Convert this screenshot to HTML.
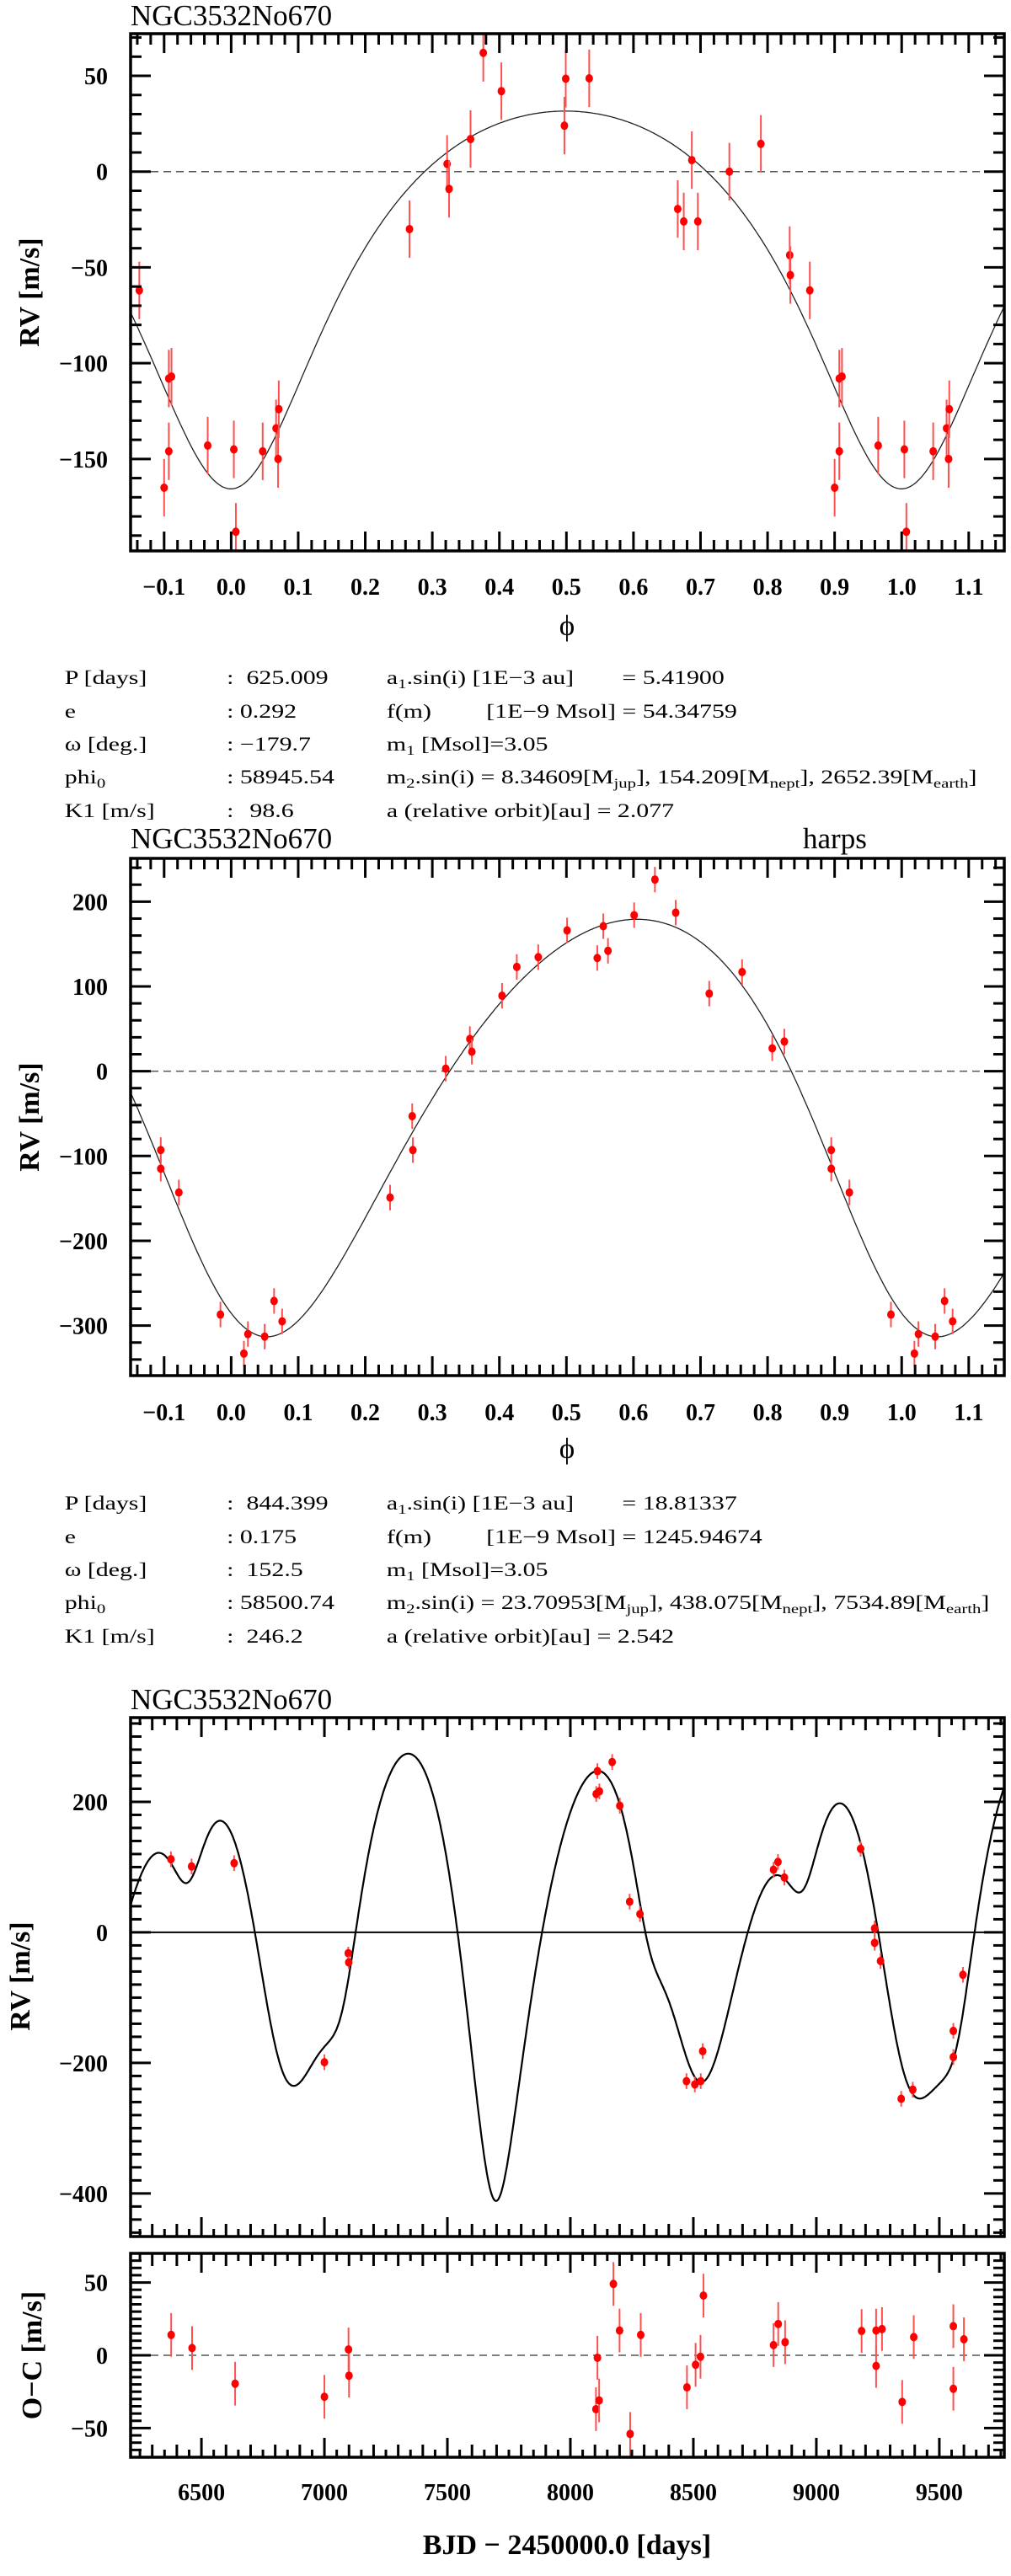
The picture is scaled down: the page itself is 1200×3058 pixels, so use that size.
<!DOCTYPE html>
<html><head><meta charset="utf-8"><title>NGC3532No670 RV fits</title>
<style>
html,body{margin:0;padding:0;background:#fff;}
svg{display:block;}
.tl{font-family:"Liberation Serif",serif;font-weight:bold;font-size:28px;fill:#000;}
.ttl{font-family:"Liberation Serif",serif;font-size:35px;fill:#000;}
.info{font-family:"Liberation Serif",serif;font-size:23px;fill:#000;}
.axt{font-family:"Liberation Serif",serif;font-weight:bold;font-size:34px;fill:#000;}
</style></head>
<body>
<svg id="fig" xmlns="http://www.w3.org/2000/svg" width="1200" height="3058" viewBox="0 0 1200 3058">
<defs>
<clipPath id="c1"><rect x="155" y="40" width="1037" height="614"/></clipPath>
<clipPath id="c2"><rect x="155" y="1019" width="1037" height="614"/></clipPath>
<clipPath id="c3"><rect x="155" y="2039" width="1037" height="616"/></clipPath>
<clipPath id="c4"><rect x="155" y="2675" width="1037" height="242"/></clipPath>
</defs>
<text class="ttl" x="155" y="30">NGC3532No670</text>
<text class="ttl" x="155" y="1007">NGC3532No670</text>
<text class="ttl" x="953" y="1007">harps</text>
<text class="ttl" x="155" y="2029">NGC3532No670</text>

<text class="axt" transform="translate(46,347) rotate(-90)" text-anchor="middle">RV [m/s]</text>
<text class="axt" transform="translate(46,1326) rotate(-90)" text-anchor="middle">RV [m/s]</text>
<text class="axt" transform="translate(35,2346) rotate(-90)" text-anchor="middle">RV [m/s]</text>
<text class="axt" transform="translate(49,2796) rotate(-90)" text-anchor="middle">O−C [m/s]</text>
<text class="ttl" x="673" y="754" text-anchor="middle">ϕ</text>
<text class="ttl" x="673" y="1731" text-anchor="middle">ϕ</text>
<text class="axt" x="673" y="3032" text-anchor="middle">BJD − 2450000.0 [days]</text>

<g transform="scale(1.3,1)" class="info" xml:space="preserve">
<text x="59" y="812">P  [days]</text><text x="207" y="812">:</text><text x="225" y="812">625.009</text>
<text x="353" y="812">a<tspan font-size="16" dy="5">1</tspan><tspan dy="-5">.sin(i)  [1E−3 au]</tspan></text><text x="568" y="812">= 5.41900</text>
<text x="59" y="852">e</text><text x="207" y="852">: 0.292</text>
<text x="353" y="852">f(m)</text><text x="444" y="852">[1E−9 Msol] = 54.34759</text>
<text x="59" y="891">ω [deg.]</text><text x="207" y="891">: −179.7</text>
<text x="353" y="891">m<tspan font-size="16" dy="5">1</tspan><tspan dy="-5"> [Msol]=3.05</tspan></text>
<text x="59" y="930">phi<tspan font-size="16" dy="5">0</tspan></text><text x="207" y="930">: 58945.54</text>
<text x="353" y="930">m<tspan font-size="16" dy="5">2</tspan><tspan dy="-5">.sin(i)  =  8.34609[M</tspan><tspan font-size="16" dy="5">jup</tspan><tspan dy="-5">],  154.209[M</tspan><tspan font-size="16" dy="5">nept</tspan><tspan dy="-5">], 2652.39[M</tspan><tspan font-size="16" dy="5">earth</tspan><tspan dy="-5">]</tspan></text>
<text x="59" y="970">K1  [m/s]</text><text x="207" y="970">:</text><text x="228" y="970">98.6</text>
<text x="353" y="970">a (relative orbit)[au] =   2.077</text>
</g>
<g transform="scale(1.3,1)" class="info" xml:space="preserve">
<text x="59" y="1792">P  [days]</text><text x="207" y="1792">:</text><text x="225" y="1792">844.399</text>
<text x="353" y="1792">a<tspan font-size="16" dy="5">1</tspan><tspan dy="-5">.sin(i)  [1E−3 au]</tspan></text><text x="568" y="1792">= 18.81337</text>
<text x="59" y="1832">e</text><text x="207" y="1832">: 0.175</text>
<text x="353" y="1832">f(m)</text><text x="444" y="1832">[1E−9 Msol] = 1245.94674</text>
<text x="59" y="1871">ω [deg.]</text><text x="207" y="1871">:</text><text x="225" y="1871">152.5</text>
<text x="353" y="1871">m<tspan font-size="16" dy="5">1</tspan><tspan dy="-5"> [Msol]=3.05</tspan></text>
<text x="59" y="1910">phi<tspan font-size="16" dy="5">0</tspan></text><text x="207" y="1910">: 58500.74</text>
<text x="353" y="1910">m<tspan font-size="16" dy="5">2</tspan><tspan dy="-5">.sin(i)  = 23.70953[M</tspan><tspan font-size="16" dy="5">jup</tspan><tspan dy="-5">],  438.075[M</tspan><tspan font-size="16" dy="5">nept</tspan><tspan dy="-5">], 7534.89[M</tspan><tspan font-size="16" dy="5">earth</tspan><tspan dy="-5">]</tspan></text>
<text x="59" y="1950">K1  [m/s]</text><text x="207" y="1950">:</text><text x="225" y="1950">246.2</text>
<text x="353" y="1950">a (relative orbit)[au] =   2.542</text>
</g>
<g id="plots"></g>
</svg>
<script>
// ---- data: panel 1 (phase-folded, planet 1) ----
const p1Phase = [0.004,0.007,0.047,0.067,0.071,0.070,0.266,0.322,0.325,0.357,0.376,0.403,0.497,0.499,0.534,0.666,0.675,0.687,0.696,0.743,0.790,0.833,0.834,0.863,0.900,0.907,0.907,0.911,0.965];
const p1RV = [-145,-188,-146,-134,-124,-150,-30,4,-9,17,62,42,24,48.5,48.7,-19.5,-26,6,-26,0,14.5,-43.6,-54,-62,-165,-146,-108,-107,-143];
const p1Err = [15,15,15,15,15,15,15,15,15,15,15,15,15,15,15,15,15,15,15,15,15,15,15,15,15,15,15,15,15];
const p1XTicks = [-0.1,0.0,0.1,0.2,0.3,0.4,0.5,0.6,0.7,0.8,0.9,1.0,1.1];
const p1YTicks = [-150,-100,-50,0,50];
// ---- data: panel 2 (phase-folded, planet 2) ----
const p2Phase = [0.019,0.025,0.05,0.064,0.076,0.237,0.270,0.271,0.320,0.356,0.359,0.404,0.426,0.458,0.501,0.546,0.555,0.562,0.601,0.632,0.663,0.713,0.762,0.807,0.825,0.895,0.895,0.922,0.984];
const p2RV = [-333,-310,-313,-271,-295,-149,-53,-93,3,38,23,89,123,134.5,166,133.5,171,142,184,226,187,91.5,117,27,35,-93,-115,-143,-287];
const p2Err = [15,15,15,15,15,15,15,15,15,15,15,15,15,15,15,15,15,15,15,15,15,15,15,15,15,15,15,15,15];
const p2XTicks = [-0.1,0.0,0.1,0.2,0.3,0.4,0.5,0.6,0.7,0.8,0.9,1.0,1.1];
const p2YTicks = [-300,-200,-100,0,100,200];
// ---- data: panel 3 (time series) ----
const p3Time = [6376,6460,6633,7000,7097,7099,8105,8118,8110,8170,8201,8241,8283,8472,8506,8530,8538,8826,8844,8870,9180,9237,9237,9261,9345,9392,9557,9557,9596];
const p3RV = [112,101,106,-199,-32,-46,212,216,247,261,194,47,28,-228,-233,-228,-182,96,108,84,128,6,-16,-44,-255,-241,-151,-191,-65];
const p3Err = [12,12,12,12,10,10,12,12,12,12,12,12,12,12,12,12,12,12,12,12,12,12,12,12,12,12,12,12,12];
const ocTime = [6377,6462,6637,7000,7098,7100,8110,8104,8117,8175,8200,8243,8286,8474,8509,8529,8541,8826,8845,8873,9184,9243,9243,9267,9349,9396,9557,9557,9600];
const ocRes = [14,5,-19.5,-28.5,4,-14,-1.7,-37,-31,49,17,-54,14,-22,-6.5,-1,41,7,21.5,9,16.7,17,-7.3,18,-32,12.5,20,-23,11];
const ocErr = [15,15,15,15,15,15,15,15,15,15,15,15,15,15,15,15,15,15,15,15,15,15,15,15,15,15,15,15,15];
const p3XTicks = [6500,7000,7500,8000,8500,9000,9500];
const p3YTicks = [-400,-200,0,200];
const ocYTicks = [-50,0,50];
// ---- orbit parameters ----
const orb1 = {P:625.009, T:8945.54, e:0.292, w:-179.7, K:98.6};
const orb2 = {P:844.399, T:8500.74, e:0.175, w:152.5, K:246.2};
const p1Offset = -38.2;
const p2Offset = -28.8;

const NS = 'http://www.w3.org/2000/svg';
const root = document.getElementById('plots');
function el(tag, attrs, parent) {
  const e = document.createElementNS(NS, tag);
  for (const k in attrs) e.setAttribute(k, attrs[k]);
  (parent || root).appendChild(e);
  return e;
}
function lin(d0, d1, r0, r1) { return v => r0 + (v - d0) / (d1 - d0) * (r1 - r0); }
function kep(ph, e, wdeg, K) {
  const M = 2 * Math.PI * (ph - Math.floor(ph));
  let E = M;
  for (let i = 0; i < 40; i++) E = E - (E - e * Math.sin(E) - M) / (1 - e * Math.cos(E));
  const nu = 2 * Math.atan2(Math.sqrt(1 + e) * Math.sin(E / 2), Math.sqrt(1 - e) * Math.cos(E / 2));
  const w = wdeg * Math.PI / 180;
  return K * (Math.cos(nu + w) + e * Math.cos(w));
}
function fmt(v, dec) { const s = v.toFixed(dec); return s.replace('-', '−'); }

function axes(o) {
  const g = el('g', {});
  
  
  const L = o.x0, R = o.x1, T = o.y0, B = o.y1;
  // x ticks
  const nX = Math.round((o.xmax - o.xmin) / o.xMinor) + 2;
  const startX = Math.ceil(o.xmin / o.xMinor - 1e-6);
  for (let i = startX; i * o.xMinor <= o.xmax + 1e-9; i++) {
    const v = i * o.xMinor;
    const x = o.sx(v);
    let len = o.xLenMinor;
    if (Math.abs(v / o.xMajor - Math.round(v / o.xMajor)) < 1e-6) len = 23;
    else if (o.xMid && Math.abs(v / o.xMid - Math.round(v / o.xMid)) < 1e-6) len = 15;
    if (o.bottomTicks !== false) {
      const t = el('line', {x1: x, x2: x, y1: B, y2: B - len, stroke: '#000', 'stroke-width': 3}, g);
      
      
    }
    const t2 = el('line', {x1: x, x2: x, y1: T, y2: T + len, stroke: '#000', 'stroke-width': 3}, g);
    
    
  }
  // y ticks
  const startY = Math.ceil(o.ymin / o.yMinor - 1e-6);
  for (let i = startY; i * o.yMinor <= o.ymax + 1e-9; i++) {
    const v = i * o.yMinor;
    const y = o.sy(v);
    const major = Math.abs(v / o.yMajor - Math.round(v / o.yMajor)) < 1e-6;
    const len = major ? 24 : 13;
    const t = el('line', {x1: L, x2: L + len, y1: y, y2: y, stroke: '#000', 'stroke-width': 3}, g);
    
    
    const t2 = el('line', {x1: R, x2: R - len, y1: y, y2: y, stroke: '#000', 'stroke-width': 3}, g);
    
    
  }
  // frame
  const f = el('rect', {x: L, y: T, width: R - L, height: B - T, fill: 'none', stroke: '#000', 'stroke-width': 3.5}, g);
  
  
  // labels
  if (o.xTicks) for (const v of o.xTicks) {
    const t = el('text', {x: o.sx(v), y: o.xLabelY, 'text-anchor': 'middle', class: 'tl'}, g);
    t.textContent = fmt(v, o.xDec);
    
    
  }
  for (const v of o.yTicks) {
    const t = el('text', {x: 128, y: o.sy(v) + 10, 'text-anchor': 'end', class: 'tl'}, g);
    t.textContent = fmt(v, 0);
    
    
  }
}

function points(xs, ys, es, sx, sy, clip, name, dup) {
  const g = el('g', {'clip-path': 'url(#' + clip + ')'});
  
  
  for (let i = 0; i < xs.length; i++) {
    const shifts = dup ? [-1, 0, 1] : [0];
    for (const s of shifts) {
      const xv = xs[i] + s;
      if (dup && (xv < -0.16 || xv > 1.16)) continue;
      const x = sx(xv), y = sy(ys[i]);
      const eb = el('line', {x1: x, x2: x, y1: sy(ys[i] - es[i]), y2: sy(ys[i] + es[i]), stroke: '#ff5050', 'stroke-width': 2}, g);
      
      
      const c = el('ellipse', {cx: x, cy: y, rx: 4.5, ry: 5, fill: '#ff0000'}, g);
      
      
    }
  }
}

function zeroLine(sx0, sx1, y, clip, dashed, name) {
  const l = el('line', {x1: sx0, x2: sx1, y1: y, y2: y, stroke: dashed ? '#555' : '#000', 'stroke-width': dashed ? 1.5 : 2, 'stroke-dasharray': dashed ? '9 6' : 'none', 'clip-path': 'url(#' + clip + ')'});
  
  
}

// ---------- Panel 1 ----------
const sx1 = lin(-0.15, 1.153, 155, 1192);
const sy1 = lin(72, -198, 40, 654);
zeroLine(179, 1168, sy1(0), 'c1', true, 'panel1-zero-line');
(function(){
  let d = '';
  for (let ph = -0.15; ph <= 1.155; ph += 0.002) {
    const v = kep(ph, orb1.e, orb1.w, orb1.K) + p1Offset;
    d += (d ? 'L' : 'M') + sx1(ph).toFixed(1) + ',' + sy1(v).toFixed(1);
  }
  const p = el('path', {d: d, fill: 'none', stroke: '#222', 'stroke-width': 1.3, 'clip-path': 'url(#c1)'});
  
  
})();
points(p1Phase, p1RV, p1Err, sx1, sy1, 'c1', 'panel1', true);
axes({name: 'panel1', x0: 155, x1: 1192, y0: 40, y1: 654, xmin: -0.15, xmax: 1.153, ymin: -198, ymax: 72, sx: sx1, sy: sy1,
  xMajor: 0.1, xMinor: 0.02, xLenMinor: 13, yMajor: 50, yMinor: 10, xTicks: p1XTicks, yTicks: p1YTicks, xDec: 1, xLabelY: 706});

// ---------- Panel 2 ----------
const sx2 = lin(-0.15, 1.153, 155, 1192);
const sy2 = lin(251, -359, 1019, 1633);
zeroLine(179, 1168, sy2(0), 'c2', true, 'panel2-zero-line');
(function(){
  let d = '';
  for (let ph = -0.15; ph <= 1.155; ph += 0.002) {
    const v = kep(ph, orb2.e, orb2.w, orb2.K) + p2Offset;
    d += (d ? 'L' : 'M') + sx2(ph).toFixed(1) + ',' + sy2(v).toFixed(1);
  }
  const p = el('path', {d: d, fill: 'none', stroke: '#222', 'stroke-width': 1.3, 'clip-path': 'url(#c2)'});
  
  
})();
points(p2Phase, p2RV, p2Err, sx2, sy2, 'c2', 'panel2', true);
axes({name: 'panel2', x0: 155, x1: 1192, y0: 1019, y1: 1633, xmin: -0.15, xmax: 1.153, ymin: -359, ymax: 251, sx: sx2, sy: sy2,
  xMajor: 0.1, xMinor: 0.02, xLenMinor: 13, yMajor: 100, yMinor: 20, xTicks: p2XTicks, yTicks: p2YTicks, xDec: 1, xLabelY: 1686});

// ---------- Panel 3 ----------
const sx3 = lin(6212, 9764, 155, 1192);
const sy3 = lin(329, -466, 2039, 2655);
zeroLine(155, 1192, sy3(0), 'c3', false, 'panel3-zero-line');
(function(){
  let d = '';
  for (let t = 6212; t <= 9766; t += 2) {
    const v = kep((t - orb1.T) / orb1.P, orb1.e, orb1.w, orb1.K) + kep((t - orb2.T) / orb2.P, orb2.e, orb2.w, orb2.K);
    d += (d ? 'L' : 'M') + sx3(t).toFixed(1) + ',' + sy3(v).toFixed(1);
  }
  const p = el('path', {d: d, fill: 'none', stroke: '#000', 'stroke-width': 2.2, 'clip-path': 'url(#c3)'});
  
  
})();
points(p3Time, p3RV, p3Err, sx3, sy3, 'c3', 'panel3', false);
axes({name: 'panel3', x0: 155, x1: 1192, y0: 2039, y1: 2655, xmin: 6212, xmax: 9764, ymin: -466, ymax: 329, sx: sx3, sy: sy3,
  xMajor: 500, xMid: 100, xMinor: 50, xLenMinor: 9, yMajor: 200, yMinor: 20, xTicks: null, yTicks: p3YTicks, xDec: 0, xLabelY: 0});

// ---------- O-C ----------
const sy4 = lin(70, -70, 2675, 2917);
zeroLine(179, 1168, sy4(0), 'c4', true, 'oc-zero-line');
points(ocTime, ocRes, ocErr, sx3, sy4, 'c4', 'oc', false);
axes({name: 'oc', x0: 155, x1: 1192, y0: 2675, y1: 2917, xmin: 6212, xmax: 9764, ymin: -70, ymax: 70, sx: sx3, sy: sy4,
  xMajor: 500, xMid: 100, xMinor: 50, xLenMinor: 9, yMajor: 50, yMinor: 5, xTicks: p3XTicks, yTicks: ocYTicks, xDec: 0, xLabelY: 2968});
</script>
</body></html>
